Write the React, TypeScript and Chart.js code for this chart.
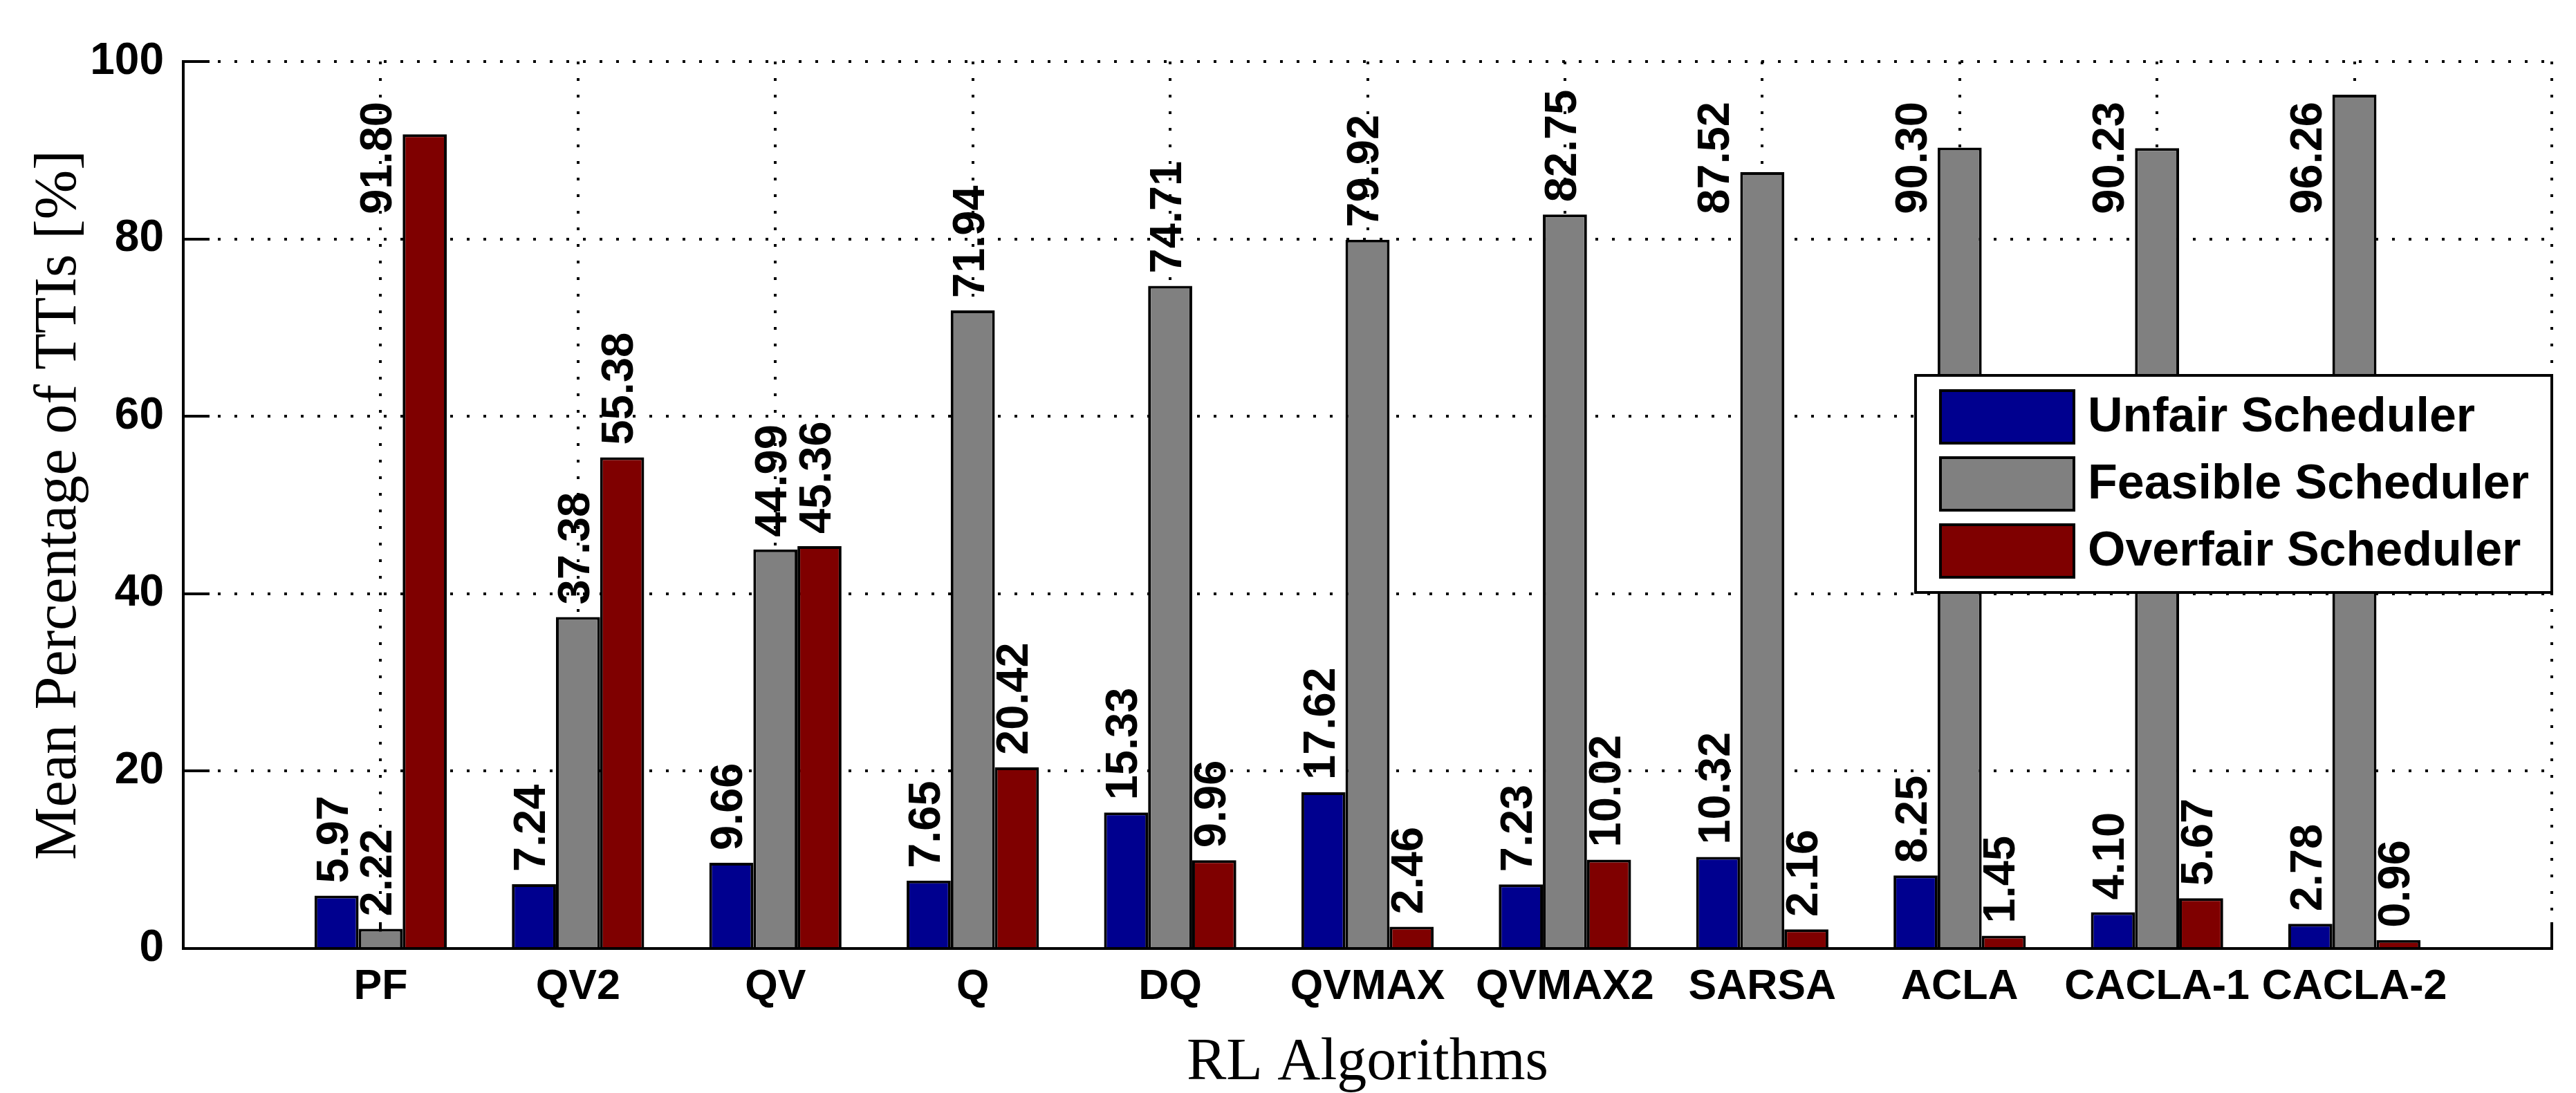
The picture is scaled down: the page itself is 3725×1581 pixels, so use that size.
import { useEffect, useRef } from 'react';
import { Chart, registerables, type ChartConfiguration, type Plugin } from 'chart.js';

Chart.register(...registerables);

// ── Data ───────────────────────────────────────────────────────────────────────

const ALGORITHMS = ['PF', 'QV2', 'QV', 'Q', 'DQ', 'QVMAX', 'QVMAX2', 'SARSA', 'ACLA', 'CACLA-1', 'CACLA-2'];
const UNFAIR     = [5.97, 7.24, 9.66, 7.65, 15.33, 17.62, 7.23, 10.32, 8.25, 4.10, 2.78];
const FEASIBLE   = [2.22, 37.38, 44.99, 71.94, 74.71, 79.92, 82.75, 87.52, 90.30, 90.23, 96.26];
const OVERFAIR   = [91.80, 55.38, 45.36, 20.42, 9.96, 2.46, 10.02, 2.16, 1.45, 5.67, 0.96];
const SERIES     = ['Unfair Scheduler', 'Feasible Scheduler', 'Overfair Scheduler'];
const Y_TICKS    = [0, 20, 40, 60, 80, 100];

// ── Style ──────────────────────────────────────────────────────────────────────

const C = {
  blue:  '#00008f',
  gray:  '#808080',
  red:   '#7f0000',
  black: '#000000',
  white: '#ffffff',
} as const;

const SANS  = 'Arial, "Liberation Sans", Helvetica, sans-serif';
const SERIF = '"Times New Roman", "Liberation Serif", Times, serif';

const TICK_LEN  = 38;
const LABEL_GAP = 18;

// ── Plugin: inner ticks, value labels, boxed legend ────────────────────────────

const matlabDecor: Plugin<'bar'> = {
  id: 'matlabDecor',
  beforeDatasetsDraw(chart) {
    const { ctx, chartArea: a, scales: { x, y } } = chart;
    ctx.save();
    ctx.strokeStyle = C.black;
    ctx.lineWidth = 4;
    ctx.beginPath();
    Y_TICKS.forEach((v) => {
      const py = Math.round(y.getPixelForValue(v));
      ctx.moveTo(a.left, py);
      ctx.lineTo(a.left + TICK_LEN, py);
    });
    for (let i = 1; i <= ALGORITHMS.length + 1; i++) {
      const px = Math.round(x.getPixelForValue(i));
      ctx.moveTo(px, a.bottom);
      ctx.lineTo(px, a.bottom - TICK_LEN);
    }
    ctx.stroke();
    ctx.restore();
  },
  afterDatasetsDraw(chart) {
    const { ctx, chartArea: a } = chart;
    ctx.save();
    ctx.font = `bold 65px ${SANS}`;
    ctx.fillStyle = C.black;
    ctx.textBaseline = 'middle';
    chart.data.datasets.forEach((ds, d) => {
      const meta = chart.getDatasetMeta(d);
      meta.data.forEach((el, i) => {
        const { x, y, width } = el.getProps(['x', 'y', 'width'], true) as any;
        const raw = (ds.data[i] as any).y as number;
        const text = raw.toFixed(2);
        const w = ctx.measureText(text).width;
        const bottom = y - LABEL_GAP;
        ctx.save();
        if (bottom - w < a.top) {
          // no room above: tuck beside the bar, on its left
          ctx.translate(x - width / 2 - 34, a.top + 58);
          ctx.rotate(-Math.PI / 2);
          ctx.textAlign = 'right';
        } else {
          ctx.translate(x - 2, bottom);
          ctx.rotate(-Math.PI / 2);
          ctx.textAlign = 'left';
        }
        ctx.fillText(text, 0, 0);
        ctx.restore();
      });
    });
    ctx.restore();
  },
  afterDraw(chart) {
    const { ctx, chartArea: a } = chart;
    const padL = 36, sw = 193, swH = 76, gap = 20, padR = 33, padT = 60, row = 97;
    ctx.save();
    ctx.font = `bold 70px ${SANS}`;
    const items = chart.data.datasets.map((ds) => ({ label: String(ds.label), color: String(ds.backgroundColor) }));
    const maxW = Math.max(...items.map((it) => ctx.measureText(it.label).width));
    const w = padL + sw + gap + maxW + padR;
    const h = padT * 2 + row * (items.length - 1);
    const left = a.right - w;
    const top = a.top + 454;

    ctx.fillStyle = C.white;
    ctx.fillRect(left, top, w, h);
    ctx.strokeStyle = C.black;
    ctx.lineWidth = 4;
    ctx.strokeRect(left, top, w, h);

    ctx.textBaseline = 'middle';
    ctx.textAlign = 'left';
    items.forEach((it, k) => {
      const cy = top + padT + k * row;
      ctx.fillStyle = it.color;
      ctx.fillRect(left + padL, cy - swH / 2, sw, swH);
      ctx.strokeRect(left + padL, cy - swH / 2, sw, swH);
      ctx.fillStyle = C.black;
      ctx.fillText(it.label, left + padL + sw + gap, cy + 2);
    });
    ctx.restore();
  },
};

// ── Chart ──────────────────────────────────────────────────────────────────────

export default function App() {
  const canvasRef = useRef<HTMLCanvasElement>(null);
  const chartRef  = useRef<Chart | null>(null);

  useEffect(() => {
    document.body.style.margin = '0';
    const canvas = canvasRef.current;
    if (!canvas) return;

    const toPoints = (vals: number[]) => vals.map((v, i) => ({ x: i + 1, y: v }));
    const series = [UNFAIR, FEASIBLE, OVERFAIR];
    const colors = [C.blue, C.gray, C.red];

    const config: ChartConfiguration<'bar'> = {
      type: 'bar',
      data: {
        datasets: series.map((vals, d) => ({
          label:           SERIES[d],
          data:            toPoints(vals) as any,
          backgroundColor: colors[d],
          borderColor:     C.black,
          borderWidth:     4,
          borderSkipped:   'start',
          categoryPercentage: 0.67,
          barPercentage:   1,
        })),
      },
      options: {
        responsive:          true,
        maintainAspectRatio: false,
        animation:           false,
        devicePixelRatio:    1,
        events:              [],
        layout: { padding: { top: 89, right: 35, left: 0, bottom: 0 } },
        plugins: {
          legend:  { display: false },
          tooltip: { enabled: false },
        },
        scales: {
          x: {
            type:   'linear',
            offset: false,
            min:    0,
            max:    ALGORITHMS.length + 1,
            afterBuildTicks: (scale) => {
              scale.ticks = Array.from({ length: ALGORITHMS.length + 2 }, (_, i) => ({ value: i }));
            },
            afterFit: (scale) => { scale.height = 209; },
            grid:   { color: C.black, lineWidth: 4, drawTicks: false, offset: false },
            border: { display: true, color: C.black, width: 4, dash: [4, 20] },
            ticks: {
              color:       C.black,
              font:        { family: SANS, size: 61, weight: 'bold', lineHeight: 1.2 },
              padding:     20,
              autoSkip:    false,
              maxRotation: 0,
              minRotation: 0,
              callback:    (v) => ALGORITHMS[Number(v) - 1] ?? '',
            },
            title: {
              display: true,
              text:    'RL Algorithms',
              color:   C.black,
              font:    { family: SERIF, size: 86, weight: 'normal', lineHeight: 1 },
              padding: { top: 23, bottom: 0 },
            },
          },
          y: {
            min: 0,
            max: 100,
            afterBuildTicks: (scale) => {
              scale.ticks = Y_TICKS.map((v) => ({ value: v }));
            },
            afterFit: (scale) => { scale.width = 265; },
            grid:   { color: C.black, lineWidth: 4, drawTicks: false },
            border: { display: true, color: C.black, width: 4, dash: [4, 20] },
            ticks: {
              color:   C.black,
              font:    { family: SANS, size: 64, weight: 'bold', lineHeight: 1.2 },
              padding: 28,
              callback: (v) => `${v}`,
            },
            title: {
              display: true,
              text:    'Mean Percentage of TTIs [%]',
              color:   C.black,
              font:    { family: SERIF, size: 86, weight: 'normal', lineHeight: 1 },
              padding: { top: 43, bottom: 0 },
            },
          },
        },
      },
      plugins: [matlabDecor],
    };

    if (chartRef.current) chartRef.current.destroy();
    chartRef.current = new Chart(canvas, config);

    return () => { chartRef.current?.destroy(); chartRef.current = null; };
  }, []);

  return (
    <div style={{ position: 'fixed', left: 0, top: 0, width: 3725, height: 1581, background: C.white }}>
      <canvas ref={canvasRef} />
    </div>
  );
}
